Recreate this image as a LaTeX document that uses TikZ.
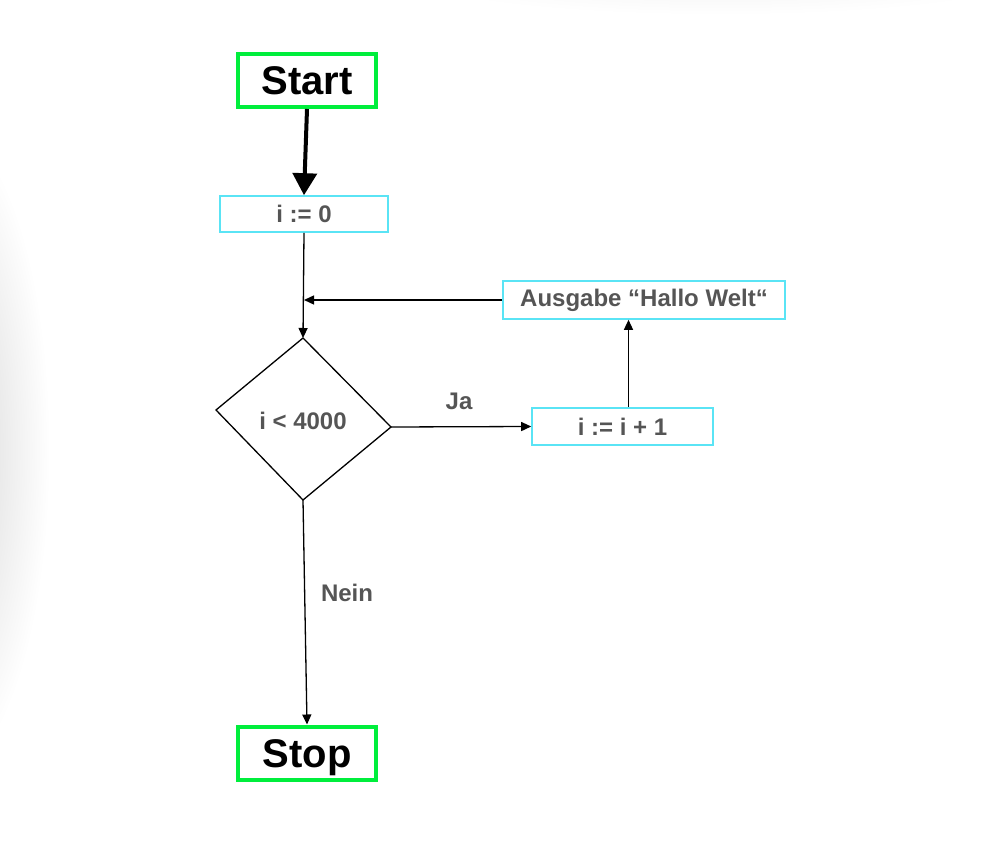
\documentclass[tikz,border=0pt]{standalone}
\usepackage{fontspec}
\setmainfont{Liberation Sans}
\usetikzlibrary{arrows.meta}
\definecolor{startgreen}{RGB}{0,238,60}
\definecolor{boxcyan}{RGB}{90,228,245}
\definecolor{textgray}{RGB}{85,85,85}
\begin{document}
\begin{tikzpicture}[x=1pt,y=-1pt,
  terminal/.style={draw=startgreen,line width=4pt,minimum width=138pt,minimum height=53pt,inner sep=0pt,text height=28pt,text depth=0pt,font=\fontsize{40}{40}\selectfont\bfseries},
  stepbox/.style={draw=boxcyan,line width=1.6pt,inner sep=0pt,text=textgray,font=\fontsize{24}{24}\selectfont\bfseries},
  lbl/.style={text=textgray,font=\fontsize{24}{24}\selectfont\bfseries},
  arr/.style={line width=1.3pt,-{Triangle[length=10pt,width=9pt]}}]
\useasboundingbox (0,0) rectangle (990,858);
\shade[inner color=black!18,outer color=white] (-60,450) ellipse (110 and 330);
\shade[inner color=black!6,outer color=white] (720,-30) ellipse (330 and 45);
\node[terminal] (start) at (307,80.5) {Start};
\node[stepbox,minimum width=168pt,minimum height=36pt] (init) at (304,214) {i := 0};
\node[stepbox,minimum width=282pt,minimum height=38pt] (ausgabe) at (644,300) {Ausgabe “Hallo Welt“};
\node[stepbox,minimum width=181pt,minimum height=37pt] (inc) at (622.5,426.5) {i := i + 1};
\node[terminal] (stop) at (307,753) {Stop};
\coordinate (dtop) at (303,338);
\coordinate (dleft) at (216,410);
\coordinate (dright) at (391,427);
\coordinate (dbot) at (303,500);
\draw[line width=1.3pt] (dtop)--(dleft)--(dbot)--(dright)--cycle;
\node[lbl] (cond) at (303,421) {i < 4000};
\node[lbl] (ja) at (459,401) {Ja};
\node[lbl] (nein) at (347,593) {Nein};
\draw[line width=4pt,-{Triangle[length=22pt,width=24pt]}] (start.south) -- (init.north);
\draw[arr] (init.south) -- (dtop);
\draw[arr] (ausgabe.west) -- (ausgabe.west -| init.south);
\draw[arr] (dright) -- (inc.west);
\draw[arr] ([xshift=6pt]inc.north) -- ([xshift=6pt]inc.north |- ausgabe.south);
\draw[arr] (dbot) -- (stop.north);
\end{tikzpicture}
\end{document}
